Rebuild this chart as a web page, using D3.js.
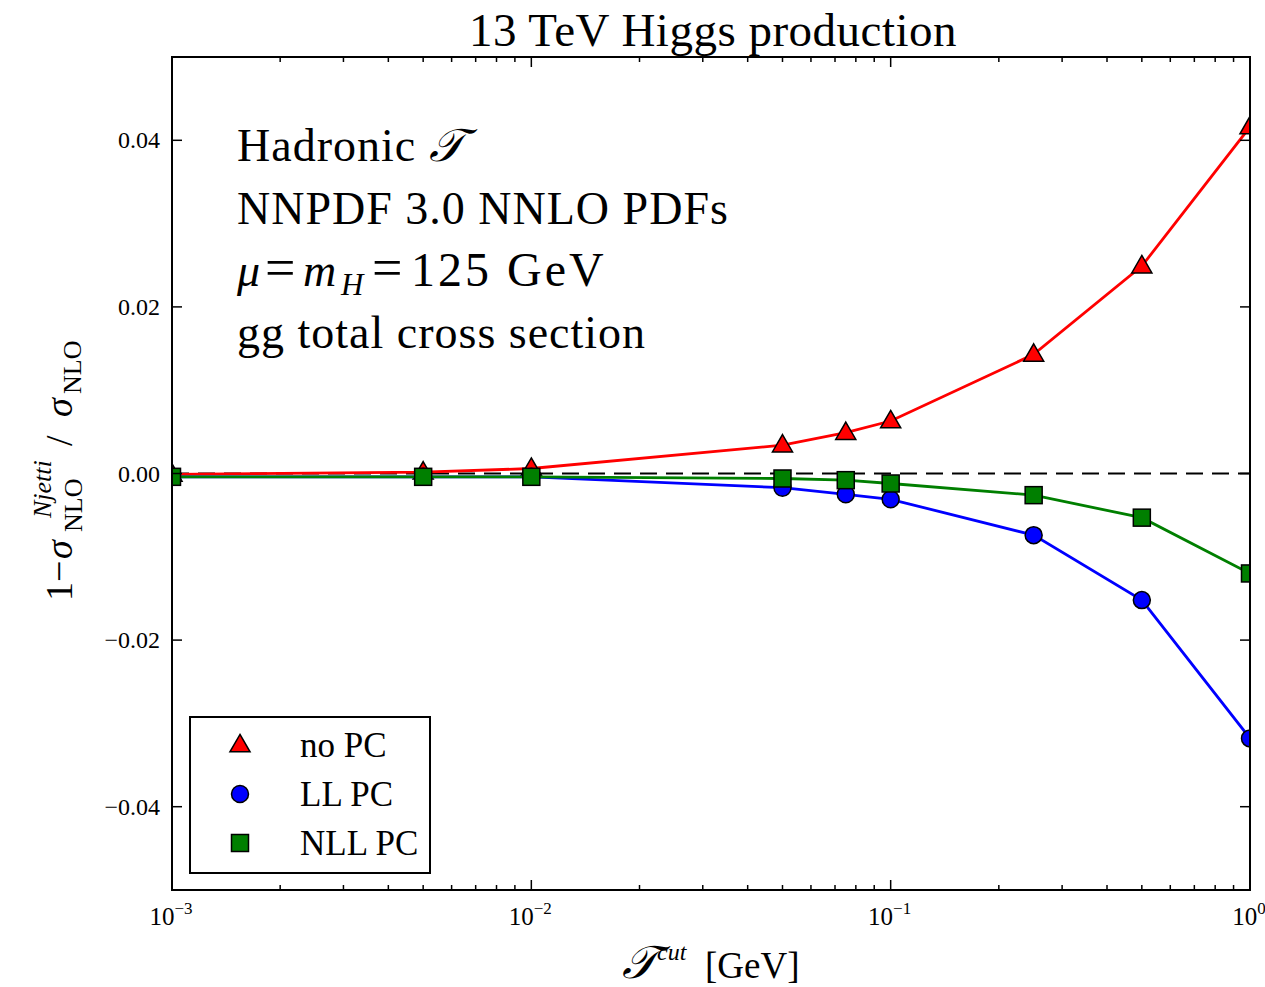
<!DOCTYPE html>
<html>
<head>
<meta charset="utf-8">
<script src="https://cdn.jsdelivr.net/npm/d3@7"></script>
<style>
  html, body { margin: 0; padding: 0; background: #fff; }
  svg text { font-family: "Liberation Serif", "Times New Roman", serif; fill: #000; }
</style>
</head>
<body>
<svg id="chart" width="1265" height="987"></svg>
<script>
/* Higgs production: power-correction comparison vs tau cut */
const tauCut = [0.001, 0.005, 0.01, 0.05, 0.075, 0.1, 0.25, 0.5, 1.0];
const noPC   = [-0.0001, 0.00016, 0.0006, 0.0034, 0.0049, 0.0063, 0.0143, 0.0249, 0.0416];
const llPC   = [-0.0004, -0.0004, -0.0004, -0.0017, -0.0025, -0.0031, -0.0074, -0.0152, -0.0318];
const nllPC  = [-0.0004, -0.0004, -0.0004, -0.0006, -0.0008, -0.0012, -0.0026, -0.0053, -0.0120];
const yTicks = [-0.04, -0.02, 0.00, 0.02, 0.04];
const xMajor = [1e-3, 1e-2, 1e-1, 1e0];
const xExp   = ["\u22123", "\u22122", "\u22121", "0"];
const annotations = ["NNPDF 3.0 NNLO PDFs", "gg total cross section"];

const series = [
  { name: "no PC",  values: noPC,  color: "#ff0000", marker: "triangle" },
  { name: "LL PC",  values: llPC,  color: "#0000ff", marker: "circle" },
  { name: "NLL PC", values: nllPC, color: "#007f00", marker: "square" }
];

const svg = d3.select("#chart");
const m = { left: 172, right: 1250, top: 57, bottom: 890 };

const x = d3.scaleLog().domain([1e-3, 1]).range([m.left, m.right]);
const y = d3.scaleLinear().domain([-0.05, 0.05]).range([m.bottom, m.top]);

svg.append("defs").append("clipPath").attr("id", "plotclip")
  .append("rect").attr("x", m.left).attr("y", m.top)
  .attr("width", m.right - m.left).attr("height", m.bottom - m.top);

// title
svg.append("text").attr("x", 713).attr("y", 46).attr("text-anchor", "middle")
  .attr("font-size", 47).attr("letter-spacing", 0.5).text("13 TeV Higgs production");

// zero line
svg.append("line")
  .attr("x1", m.left).attr("x2", m.right).attr("y1", y(0)).attr("y2", y(0))
  .attr("stroke", "#000").attr("stroke-width", 2).attr("stroke-dasharray", "17,9");

const plot = svg.append("g").attr("clip-path", "url(#plotclip)");

function drawMarker(g, type, cx, cy, color){
  if (type === "triangle") {
    g.append("path").attr("d", d3.symbol().type(d3.symbolTriangle).size(175)())
      .attr("transform", `translate(${cx},${cy + 1})`)
      .attr("fill", color).attr("stroke", "#000").attr("stroke-width", 1.5);
  } else if (type === "circle") {
    g.append("circle").attr("cx", cx).attr("cy", cy).attr("r", 8.5)
      .attr("fill", color).attr("stroke", "#000").attr("stroke-width", 1.5);
  } else {
    g.append("rect").attr("x", cx - 8.5).attr("y", cy - 8.5).attr("width", 17).attr("height", 17)
      .attr("fill", color).attr("stroke", "#000").attr("stroke-width", 1.5);
  }
}

const line = d3.line().x(d => x(d[0])).y(d => y(d[1]));
series.forEach(s => {
  const pts = tauCut.map((t, i) => [t, s.values[i]]);
  const g = plot.append("g");
  g.append("path").datum(pts).attr("d", line)
    .attr("fill", "none").attr("stroke", s.color).attr("stroke-width", 2.8);
  pts.forEach(p => drawMarker(g, s.marker, x(p[0]), y(p[1]), s.color));
});

// frame
svg.append("rect").attr("x", m.left).attr("y", m.top)
  .attr("width", m.right - m.left).attr("height", m.bottom - m.top)
  .attr("fill", "none").attr("stroke", "#000").attr("stroke-width", 2);

// x ticks (inside, top & bottom)
const minor = [];
for (let e = -3; e < 0; e++) for (let k = 2; k <= 9; k++) minor.push(k * Math.pow(10, e));
const tickG = svg.append("g").attr("stroke", "#000").attr("stroke-width", 1.5);
xMajor.forEach(v => {
  tickG.append("line").attr("x1", x(v)).attr("x2", x(v)).attr("y1", m.bottom).attr("y2", m.bottom - 10);
  tickG.append("line").attr("x1", x(v)).attr("x2", x(v)).attr("y1", m.top).attr("y2", m.top + 10);
});
minor.forEach(v => {
  tickG.append("line").attr("x1", x(v)).attr("x2", x(v)).attr("y1", m.bottom).attr("y2", m.bottom - 5);
  tickG.append("line").attr("x1", x(v)).attr("x2", x(v)).attr("y1", m.top).attr("y2", m.top + 5);
});
yTicks.forEach(v => {
  tickG.append("line").attr("x1", m.left).attr("x2", m.left + 10).attr("y1", y(v)).attr("y2", y(v));
  tickG.append("line").attr("x1", m.right).attr("x2", m.right - 10).attr("y1", y(v)).attr("y2", y(v));
});

// tick labels
xMajor.forEach((v, i) => {
  const t = svg.append("text").attr("x", x(v) - 1).attr("y", 925).attr("text-anchor", "middle").attr("font-size", 25);
  t.append("tspan").text("10");
  t.append("tspan").attr("dy", -11).attr("font-size", 17).text(xExp[i]);
});
yTicks.forEach(v => {
  svg.append("text").attr("x", 160).attr("y", y(v) + 8).attr("text-anchor", "end")
    .attr("font-size", 24).text(d3.format(".2f")(v).replace("-", "\u2212"));
});

// annotation block
const calT = "\uD835\uDCAF";
const ann = svg.append("g").attr("font-size", 46).attr("letter-spacing", 1);
const a1 = ann.append("text").attr("x", 237).attr("y", 161);
a1.append("tspan").text("Hadronic ");
a1.append("tspan").attr("font-style", "italic").text(calT);
ann.append("text").attr("x", 237).attr("y", 224).text(annotations[0]);
const a3 = ann.append("text").attr("y", 286);
a3.append("tspan").attr("x", 237).attr("font-style", "italic").text("\u03BC");
a3.append("tspan").attr("x", 265).attr("font-size", 54).text("=");
a3.append("tspan").attr("x", 303).attr("font-style", "italic").text("m");
a3.append("tspan").attr("x", 341).attr("font-style", "italic").attr("font-size", 31).attr("dy", 9).text("H");
a3.append("tspan").attr("x", 372).attr("dy", -9).attr("font-size", 54).text("=");
a3.append("tspan").attr("x", 411).attr("font-size", 48).attr("letter-spacing", 3).text("125 GeV");
ann.append("text").attr("x", 237).attr("y", 348).text(annotations[1]);

// axis labels
const xl = svg.append("g");
xl.append("text").attr("x", 622).attr("y", 978).attr("font-size", 46).attr("font-style", "italic").text(calT);
xl.append("text").attr("x", 657).attr("y", 960).attr("font-size", 24).attr("font-style", "italic").text("cut");
xl.append("text").attr("x", 705).attr("y", 978).attr("font-size", 37).text("[GeV]");

const yl = svg.append("g").attr("transform", "translate(72,470) rotate(-90)");
yl.append("text").attr("x", -131).attr("y", 0).attr("font-size", 38).text("1\u2212");
yl.append("text").attr("x", -89).attr("y", 0).attr("font-size", 38).attr("font-style", "italic").text("\u03C3");
yl.append("text").attr("x", -62).attr("y", 10).attr("font-size", 26).text("NLO");
yl.append("text").attr("x", -48).attr("y", -21).attr("font-size", 26).attr("font-style", "italic").text("Njetti");
yl.append("text").attr("x", 24).attr("y", 0).attr("font-size", 38).text("/");
yl.append("text").attr("x", 53).attr("y", 0).attr("font-size", 38).attr("font-style", "italic").text("\u03C3");
yl.append("text").attr("x", 76).attr("y", 9).attr("font-size", 26).text("NLO");

// legend
const lg = svg.append("g");
lg.append("rect").attr("x", 190).attr("y", 717).attr("width", 240).attr("height", 156)
  .attr("fill", "#fff").attr("stroke", "#000").attr("stroke-width", 2);
series.forEach((s, i) => {
  const cy = 745 + i * 49;
  drawMarker(lg, s.marker, 240, cy, s.color);
  lg.append("text").attr("x", 300).attr("y", cy + 12).attr("font-size", 35).text(s.name);
});
</script>
</body>
</html>
